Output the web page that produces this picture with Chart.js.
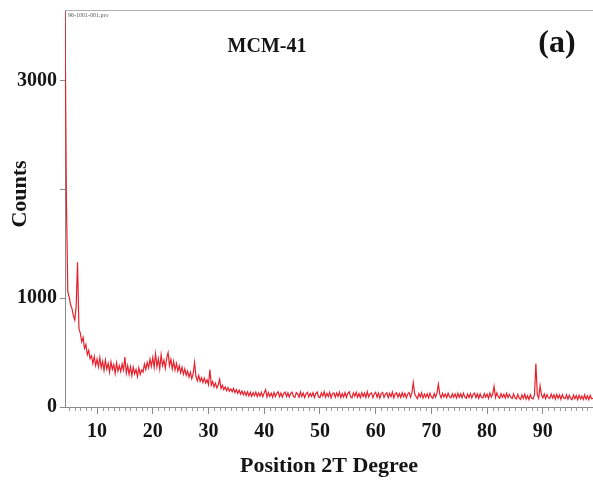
<!DOCTYPE html>
<html lang="en">
<head>
    <meta charset="UTF-8">
    <title>MCM-41 XRD</title>
    <script src="https://cdn.jsdelivr.net/npm/chart.js"></script>
    <style>
        body {
            margin: 0;
            padding: 0;
            background-color: #fff;
        }
        #xrdChart {
            display: block;
        }
    </style>
</head>
<body>
    <canvas id="xrdChart" width="593" height="485"></canvas>

    <script>
        // scan grid: 2theta from 4.25 deg, one reading every 0.25 deg
        const startAngle = 4.25;
        const stepAngle = 0.25;

        // counts, 20 readings (5 deg) per line
        const counts = [
            3650, 1900, 1060, 1010, 940, 905, 840, 800, 920, 1330, 720, 680, 600, 640, 540, 575, 480, 520, 445, 470,
            400, 465, 380, 440, 370, 455, 360, 420, 335, 430, 350, 400, 320, 415, 345, 390, 310, 405, 330, 380,
            325, 395, 340, 460, 310, 380, 300, 370, 290, 365, 305, 345, 280, 360, 300, 340, 320, 395, 345, 410,
            360, 440, 375, 455, 365, 490, 370, 445, 350, 480, 380, 430, 355, 450, 500, 380, 440, 350, 420, 340,
            400, 330, 380, 315, 365, 300, 350, 290, 330, 275, 320, 260, 305, 410, 280, 240, 290, 235, 270, 225,
            265, 220, 250, 205, 345, 200, 235, 185, 220, 175, 205, 255, 170, 200, 160, 185, 150, 178, 145, 168,
            140, 170, 132, 160, 125, 155, 118, 148, 112, 142, 105, 140, 102, 136, 98, 132, 104, 138, 96, 130,
            100, 135, 95, 130, 160, 92, 132, 98, 128, 90, 134, 96, 125, 140, 94, 128, 90, 126, 138, 95,
            130, 92, 124, 136, 95, 88, 132, 120, 90, 138, 96, 128, 86, 122, 135, 92, 126, 98, 132, 88,
            124, 138, 92, 86, 130, 100, 140, 90, 126, 96, 134, 84, 122, 130, 90, 128, 96, 136, 86, 124,
            92, 132, 88, 126, 140, 96, 84, 130, 98, 136, 90, 124, 86, 132, 96, 128, 88, 140, 92, 122,
            130, 86, 120, 136, 90, 128, 82, 124, 134, 88, 118, 132, 86, 126, 94, 138, 84, 120, 130, 90,
            124, 88, 132, 94, 126, 84, 120, 134, 90, 128, 225, 118, 96, 78, 124, 92, 130, 82, 118, 90,
            122, 84, 128, 92, 80, 124, 90, 130, 210, 118, 84, 126, 92, 120, 86, 128, 94, 84, 122, 90,
            120, 82, 126, 90, 122, 84, 128, 92, 80, 120, 88, 124, 84, 116, 128, 86, 120, 80, 122, 90,
            84, 124, 90, 118, 80, 128, 92, 120, 190, 86, 130, 94, 80, 122, 88, 118, 82, 126, 86, 116,
            88, 78, 120, 84, 74, 116, 82, 70, 112, 78, 118, 72, 104, 68, 114, 80, 74, 112, 400, 118,
            80, 195, 112, 84, 120, 76, 114, 86, 78, 118, 82, 112, 72, 116, 80, 110, 70, 114, 82, 76,
            112, 72, 108, 80, 68, 110, 76, 106, 66, 108, 74, 102, 70, 112, 72, 104, 68, 108, 76, 80
        ];

        // axis ticks
        const xTicks = [10, 20, 30, 40, 50, 60, 70, 80, 90];
        const yTicks = [0, 1000, 2000, 3000];
        const yHiddenLabels = [2000];

        const points = counts.map((c, i) => ({ x: startAngle + i * stepAngle, y: c }));

        const serif = "'Liberation Serif', 'Times New Roman', serif";
        const axisGray = '#8a8a8a';

        // frame top, minor ticks and the free texts
        const extras = {
            id: 'extras',
            afterDraw(chart) {
                const ctx = chart.ctx;
                const area = chart.chartArea;
                const xs = chart.scales.x;
                ctx.save();

                ctx.strokeStyle = '#b0b0b0';
                ctx.lineWidth = 1;
                ctx.beginPath();
                ctx.moveTo(area.left, area.top + 0.5);
                ctx.lineTo(area.right, area.top + 0.5);
                ctx.stroke();

                // minor ticks every degree
                ctx.strokeStyle = '#9a9a9a';
                for (let a = 5; a <= 98; a++) {
                    if (a % 10 === 0) continue;
                    const px = Math.round(xs.getPixelForValue(a)) + 0.5;
                    ctx.beginPath();
                    ctx.moveTo(px, area.bottom);
                    ctx.lineTo(px, area.bottom + 4);
                    ctx.stroke();
                }

                ctx.fillStyle = '#555';
                ctx.font = '6px ' + serif;
                ctx.textAlign = 'left';
                ctx.textBaseline = 'middle';
                ctx.fillText('96-1001-001.pro', area.left + 3, area.top + 5);

                ctx.fillStyle = '#151515';
                ctx.textAlign = 'center';
                ctx.font = 'bold 20px ' + serif;
                ctx.fillText('MCM-41', 267, 47);
                ctx.font = 'bold 32px ' + serif;
                ctx.fillText('(a)', 557, 44);

                ctx.translate(20, 194);
                ctx.rotate(-Math.PI / 2);
                ctx.font = 'bold 22px ' + serif;
                ctx.fillText('Counts', 0, 0);
                ctx.restore();
            }
        };

        const ctx = document.getElementById('xrdChart').getContext('2d');
        const xrdChart = new Chart(ctx, {
            type: 'line',
            data: {
                datasets: [{
                    label: 'MCM-41',
                    data: points,
                    borderColor: 'rgb(232, 32, 44)',
                    borderWidth: 1.2,
                    pointRadius: 0,
                    tension: 0,
                    fill: false
                }]
            },
            options: {
                responsive: false,
                animation: false,
                layout: { padding: { top: 10, right: 0, bottom: 0, left: 0 } },
                plugins: {
                    legend: { display: false },
                    tooltip: { enabled: false }
                },
                scales: {
                    x: {
                        type: 'linear',
                        min: 4.25,
                        max: 99,
                        afterBuildTicks: scale => {
                            scale.ticks = xTicks.map(v => ({ value: v }));
                        },
                        afterFit: scale => {
                            scale.height = 78;
                            scale.paddingLeft = 0;
                            scale.paddingRight = 0;
                        },
                        ticks: {
                            color: '#151515',
                            font: { family: serif, size: 20, weight: 'bold' },
                            padding: 6,
                            maxRotation: 0,
                            autoSkip: false
                        },
                        grid: {
                            drawOnChartArea: false,
                            tickLength: 7,
                            color: axisGray
                        },
                        border: { color: axisGray, width: 1 },
                        title: {
                            display: true,
                            text: 'Position 2T Degree',
                            color: '#151515',
                            font: { family: serif, size: 22, weight: 'bold' },
                            padding: { top: 0, bottom: 5 }
                        }
                    },
                    y: {
                        min: 0,
                        max: 3650,
                        afterBuildTicks: scale => {
                            scale.ticks = yTicks.map(v => ({ value: v }));
                        },
                        afterFit: scale => {
                            scale.width = 65;
                            scale.paddingTop = 0;
                            scale.paddingBottom = 0;
                        },
                        ticks: {
                            color: '#151515',
                            font: { family: serif, size: 20, weight: 'bold' },
                            padding: 3,
                            callback: v => yHiddenLabels.includes(v) ? '' : v
                        },
                        grid: {
                            drawOnChartArea: false,
                            tickLength: 5,
                            color: axisGray
                        },
                        border: { color: axisGray, width: 1 }
                    }
                }
            },
            plugins: [extras]
        });
    </script>
</body>
</html>
